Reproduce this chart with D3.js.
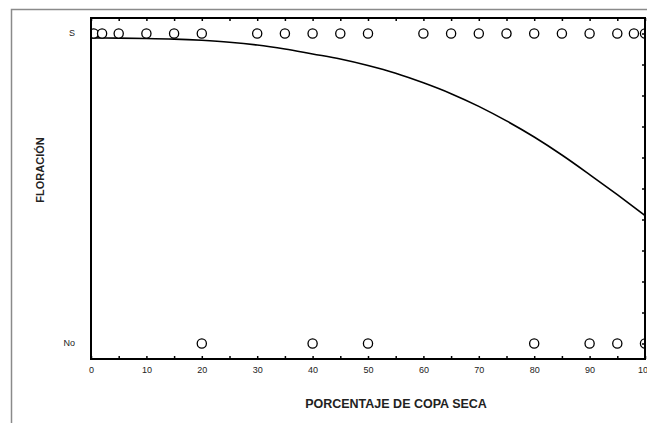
<!DOCTYPE html>
<html lang="es">
	<head>
		<meta charset="UTF-8" />
		<title>Floración vs porcentaje de copa seca</title>
		<script src="https://d3js.org/d3.v7.min.js"></script>
		<style>
			body {
				margin: 0;
				background: #fff;
			}
			svg {
				display: block;
				font-family: "Liberation Sans", Arial, sans-serif;
			}
		</style>
	</head>
	<body>
		<svg id="svg" width="647" height="423"></svg>
		<script>
			// observaciones: porcentaje de copa seca con floración (S) y sin floración (No)
			const floracionSi = [0.5, 2, 5, 10, 15, 20, 30, 35, 40, 45, 50, 60, 65, 70, 75, 80, 85, 90, 95, 98, 100];
			const floracionNo = [20, 40, 50, 80, 90, 95, 100];

			// curva ajustada (probabilidad de floración)
			const curvaX = [0, 5, 10, 15, 20, 25, 30, 35, 40, 45, 50, 55, 60, 65, 70, 75, 80, 85, 90, 95, 100];
			const curvaP = [0.986, 0.985, 0.984, 0.982, 0.978, 0.972, 0.963, 0.95, 0.934, 0.918, 0.897, 0.872, 0.841, 0.806, 0.765, 0.718, 0.666, 0.608, 0.545, 0.48, 0.413];

			const xTicks = [0, 10, 20, 30, 40, 50, 60, 70, 80, 90, 100];
			const yCategorias = ["No", "S"];

			const svg = d3.select("svg");
			const mLeft = 91, mRight = 645, mTop = 18, mBottom = 359;

			const x = d3.scaleLinear().domain([0, 100]).range([mLeft, mRight]);
			const y = d3.scaleLinear().domain([0, 1]).range([343.5, 33.5]);

			// marco exterior
			svg.append("path")
				.attr("d", `M11.5,423 V9.5 H647`)
				.attr("fill", "none")
				.attr("stroke", "#8a8a8a")
				.attr("stroke-width", 1.5);

			svg.append("clipPath")
				.attr("id", "plot-clip")
				.append("rect")
				.attr("x", mLeft)
				.attr("y", mTop)
				.attr("width", mRight - mLeft)
				.attr("height", mBottom - mTop);

			const plot = svg.append("g").attr("clip-path", "url(#plot-clip)");

			// curva logística
			plot.append("path")
				.datum(curvaX.map((d, i) => [d, curvaP[i]]))
				.attr("fill", "none")
				.attr("stroke", "#000")
				.attr("stroke-width", 1.6)
				.attr("d", d3.line().x((d) => x(d[0])).y((d) => y(d[1])).curve(d3.curveMonotoneX));

			// puntos
			const puntos = floracionSi.map((d) => [d, 1]).concat(floracionNo.map((d) => [d, 0]));
			plot.selectAll(".pt")
				.data(puntos)
				.enter()
				.append("circle")
				.classed("pt", true)
				.attr("cx", (d) => x(d[0]))
				.attr("cy", (d) => y(d[1]))
				.attr("r", 4.6)
				.attr("fill", "#fff")
				.attr("stroke", "#000")
				.attr("stroke-width", 1.3);

			// ejes con marcas hacia adentro
			const xMinor = d3.range(0, 101, 5);
			svg.append("g")
				.attr("transform", `translate(0,${mBottom})`)
				.call(d3.axisBottom(x).tickValues(xMinor).tickSize(-3).tickFormat(""))
				.call((g) => g.select(".domain").remove())
				.call((g) => g.selectAll("line").attr("stroke-width", 1.5));
			svg.append("g")
				.attr("transform", `translate(0,${mTop})`)
				.call(d3.axisTop(x).tickValues(xMinor).tickSize(-3).tickFormat(""))
				.call((g) => g.select(".domain").remove())
				.call((g) => g.selectAll("line").attr("stroke-width", 1.5));
			svg.append("g")
				.attr("transform", `translate(${mRight},0)`)
				.call(d3.axisRight(y).ticks(10).tickSize(-3).tickFormat(""))
				.call((g) => g.select(".domain").remove())
				.call((g) => g.selectAll("line").attr("stroke-width", 1.5));

			// etiquetas del eje x
			svg.append("g")
				.attr("transform", `translate(0,${mBottom})`)
				.call(d3.axisBottom(x).tickValues(xTicks).tickSize(0).tickPadding(8))
				.call((g) => g.select(".domain").remove())
				.call((g) => g.selectAll("text").attr("font-size", 9).attr("fill", "#222").attr("font-family", "Liberation Sans, Arial, sans-serif"));

			// etiquetas del eje y
			svg.selectAll(".ylab")
				.data(yCategorias)
				.enter()
				.append("text")
				.classed("ylab", true)
				.attr("x", 75)
				.attr("y", (d, i) => y(i) - 1)
				.attr("dy", "0.35em")
				.attr("text-anchor", "end")
				.attr("font-size", 9)
				.attr("fill", "#222")
				.text((d) => d);

			// marco del gráfico
			svg.append("rect")
				.attr("x", mLeft)
				.attr("y", mTop)
				.attr("width", mRight - mLeft)
				.attr("height", mBottom - mTop)
				.attr("fill", "none")
				.attr("stroke", "#000")
				.attr("stroke-width", 2);

			// títulos
			svg.append("text")
				.attr("x", 396)
				.attr("y", 408)
				.attr("text-anchor", "middle")
				.attr("font-size", 12.5)
				.attr("font-weight", "bold")
				.attr("fill", "#222")
				.text("PORCENTAJE DE COPA SECA");

			svg.append("text")
				.attr("transform", "translate(44,170) rotate(-90)")
				.attr("text-anchor", "middle")
				.attr("font-size", 11)
				.attr("font-weight", "bold")
				.attr("fill", "#222")
				.text("FLORACIÓN");
		</script>
	</body>
</html>
